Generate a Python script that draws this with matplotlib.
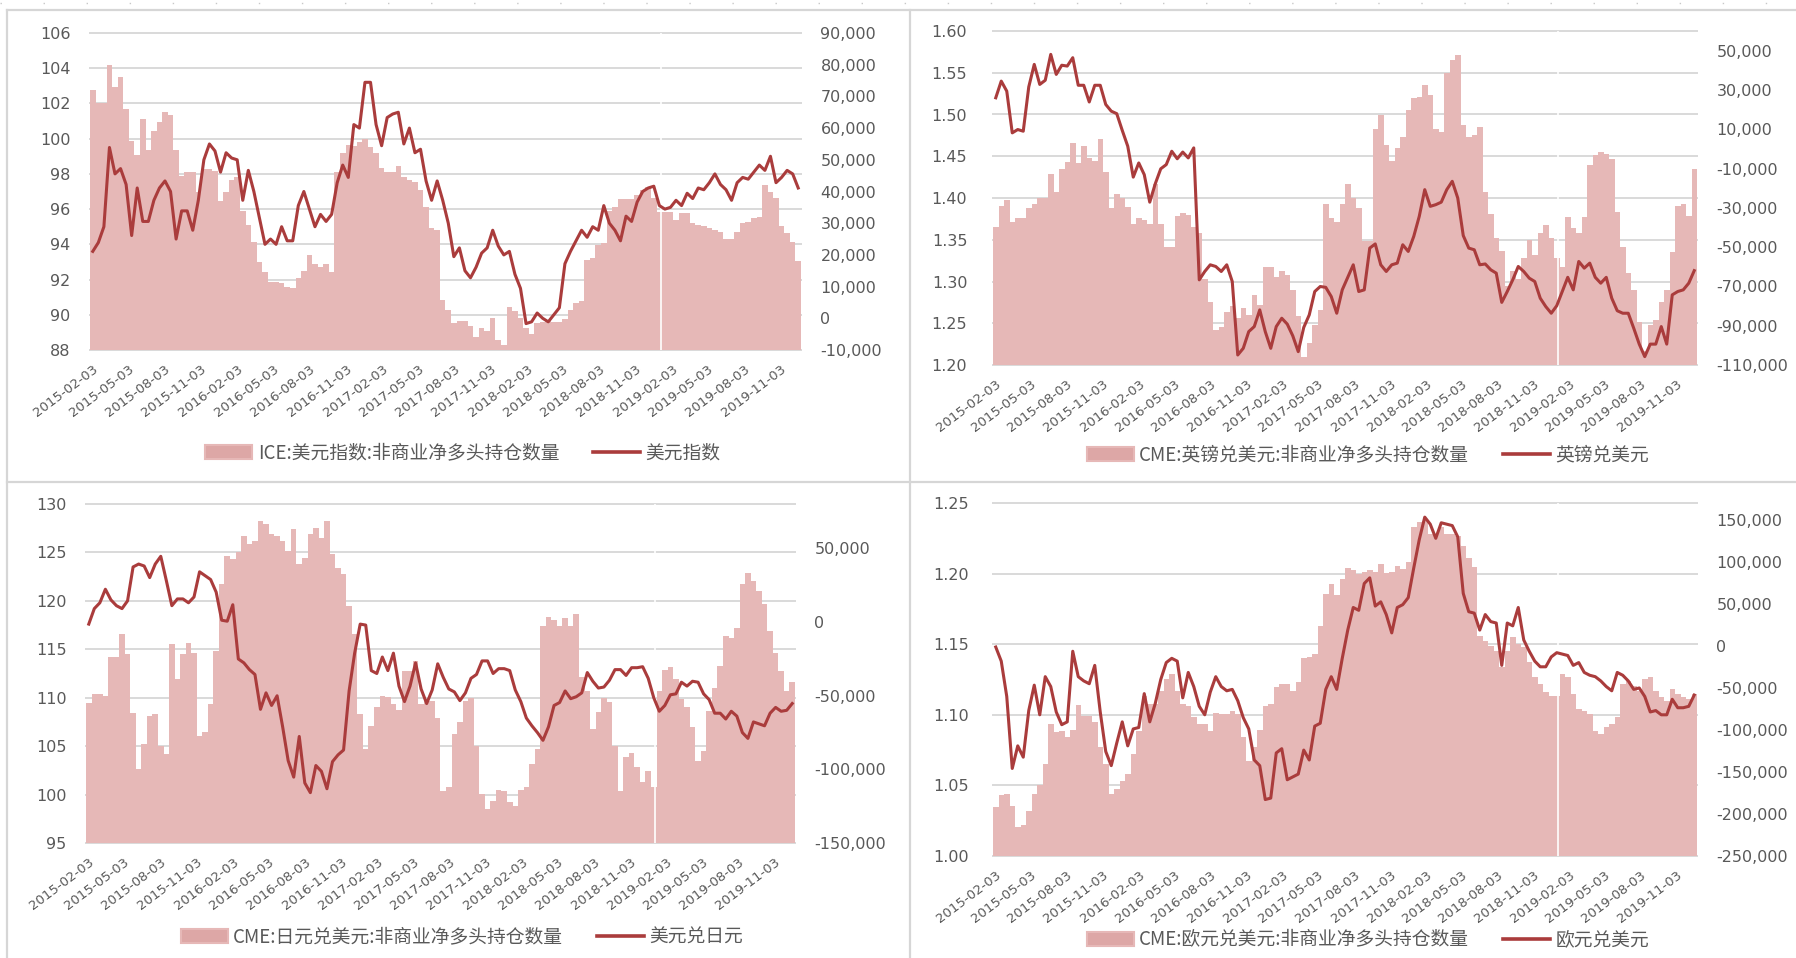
import numpy as np
import pandas as pd
import matplotlib
matplotlib.use('Agg')
import matplotlib.pyplot as plt
from matplotlib.lines import Line2D
from matplotlib.patches import Patch
from matplotlib.ticker import FuncFormatter

plt.rcParams['font.family'] = ['DejaVu Sans', 'Noto Sans CJK SC']

# CFTC weekly data, every second week
week_dates = pd.date_range('2015-02-03', periods=128, freq='14D')
tick_dates = pd.date_range('2015-02-01', '2019-11-01', freq='3MS') + pd.Timedelta(days=2)
report_gap = pd.Timestamp('2019-01-04')   # no COT report during the shutdown

usd_index = [
    93.6, 94.1, 95.0, 99.5, 98.0, 98.3, 97.4, 94.5, 97.2, 95.3,
    95.3, 96.5, 97.2, 97.6, 97.0, 94.3, 95.9, 95.9, 94.8, 96.5,
    98.8, 99.7, 99.3, 98.1, 99.2, 98.9, 98.8, 96.5, 98.2, 97.0,
    95.5, 94.0, 94.3, 94.0, 95.0, 94.2, 94.2, 96.2, 97.0, 96.0,
    95.0, 95.7, 95.3, 95.7, 97.5, 98.5, 97.8, 100.8, 100.6, 103.2,
    103.2, 100.8, 99.6, 101.2, 101.4, 101.5, 99.7, 100.6, 99.2, 99.4,
    97.6, 96.5, 97.6, 96.5, 95.2, 93.3, 93.8, 92.5, 92.1, 92.7,
    93.5, 93.8, 94.8, 93.9, 93.4, 93.6, 92.3, 91.5, 89.5, 89.6,
    90.1, 89.8, 89.6, 90.0, 90.4, 92.9, 93.6, 94.2, 94.8, 94.4,
    95.0, 94.8, 96.2, 95.2, 94.8, 94.2, 95.6, 95.3, 96.4, 97.0,
    97.2, 97.3, 96.2, 96.0, 96.1, 96.5, 96.2, 96.9, 96.6, 97.2,
    97.1, 97.5, 98.0, 97.4, 97.1, 96.5, 97.5, 97.8, 97.7, 98.1,
    98.5, 98.2, 99.0, 97.5, 97.8, 98.2, 98.0, 97.2]
ice_usd_net = [
    72000, 68000, 68000, 80000, 73000, 76000, 66000, 56000, 51500, 63000,
    53000, 59000, 62000, 65000, 64000, 53000, 45000, 46000, 46000, 40000,
    47000, 47000, 46500, 37000, 40000, 43500, 44500, 34000, 29500, 24000,
    17800, 14500, 11600, 11500, 11000, 10000, 9500, 12600, 15000, 20000,
    17000, 16300, 17000, 14500, 46000, 52000, 54600, 54200, 55500, 56500,
    54000, 52000, 47500, 46200, 46000, 48000, 44600, 43600, 43000, 40500,
    35000, 28400, 28000, 5800, 2700, -1500, -1000, -1000, -2500, -6000,
    -3000, -3900, 0, -6700, -8300, 3700, 2200, 0, -3000, -5000,
    -1500, -1300, -1000, -1200, -1200, -200, 2700, 4800, 5300, 18400,
    18900, 23100, 23600, 34000, 35000, 37600, 37600, 37600, 39000, 40400,
    41500, 37800, 33600, 33600, 33600, 31000, 33100, 33100, 30000, 29400,
    29100, 28600, 28000, 27300, 25000, 25000, 27300, 30000, 30500, 31500,
    32000, 42000, 40000, 38000, 29000, 27000, 24200, 18000]

gbpusd = [
    1.520, 1.540, 1.528, 1.478, 1.482, 1.480, 1.533, 1.560, 1.536, 1.541,
    1.572, 1.548, 1.559, 1.558, 1.568, 1.535, 1.535, 1.515, 1.535, 1.535,
    1.512, 1.504, 1.501, 1.481, 1.462, 1.425, 1.442, 1.428, 1.395, 1.417,
    1.435, 1.440, 1.456, 1.447, 1.455, 1.448, 1.460, 1.302, 1.312, 1.320,
    1.318, 1.312, 1.320, 1.300, 1.212, 1.220, 1.240, 1.246, 1.266, 1.240,
    1.220, 1.246, 1.256, 1.249, 1.235, 1.216, 1.245, 1.260, 1.288, 1.294,
    1.293, 1.282, 1.262, 1.290, 1.305, 1.320, 1.288, 1.290, 1.340, 1.345,
    1.320, 1.312, 1.320, 1.322, 1.344, 1.336, 1.354, 1.378, 1.410, 1.390,
    1.392, 1.395, 1.410, 1.420, 1.400, 1.355, 1.340, 1.338, 1.320, 1.321,
    1.314, 1.310, 1.275, 1.288, 1.302, 1.318, 1.312, 1.304, 1.300, 1.280,
    1.270, 1.262, 1.271, 1.288, 1.305, 1.290, 1.324, 1.316, 1.322, 1.305,
    1.298, 1.305, 1.280, 1.265, 1.262, 1.262, 1.244, 1.225, 1.210, 1.225,
    1.225, 1.246, 1.225, 1.284, 1.288, 1.290, 1.298, 1.313]
cme_gbp_net = [
    -40000, -29000, -26000, -37000, -35000, -35000, -30000, -28000, -25000, -25000,
    -13000, -22000, -10000, -6500, 3000, -7000, 1500, -4800, -6000, 5000,
    -12000, -30000, -23000, -25000, -29400, -38000, -35000, -36000, -38000, -18000,
    -38000, -50000, -50000, -34000, -32800, -33600, -40000, -43000, -66000, -78000,
    -92000, -90500, -82800, -80000, -86000, -81100, -84500, -74400, -79500, -60000,
    -60000, -65000, -62000, -64200, -71800, -85000, -106000, -99000, -89600, -82000,
    -28000, -35000, -37100, -28000, -18000, -25200, -30000, -47000, -47000, 10000,
    17000, 2000, -6000, 300, 6000, 20000, 25700, 26600, 32700, 27500,
    10000, 8800, 38500, 45000, 47800, 12000, 6300, 7000, 11300, -22000,
    -33000, -45500, -52000, -70000, -62000, -66000, -55700, -46400, -54000, -43000,
    -38700, -45500, -55700, -59900, -34500, -40300, -43000, -34500, -8000, -3000,
    -1400, -2700, -5000, -32000, -50000, -63000, -72000, -88000, -103000, -89600,
    -87000, -78000, -72000, -52300, -29000, -28000, -34000, -10000]

usdjpy = [
    117.6, 119.2, 119.8, 121.2, 120.1, 119.5, 119.2, 120.0, 123.5, 123.8,
    123.6, 122.4, 123.8, 124.6, 122.1, 119.5, 120.2, 120.2, 119.8, 120.4,
    123.0, 122.6, 122.2, 120.9, 118.0, 117.9, 119.6, 114.0, 113.6, 112.9,
    112.4, 108.8, 110.5, 109.2, 110.2, 107.0, 103.5, 101.8, 106.0, 101.2,
    100.2, 103.0, 102.4, 100.6, 103.4, 104.1, 104.6, 110.7, 114.6, 117.6,
    117.5, 112.8, 112.5, 114.2, 112.8, 114.6, 111.2, 109.6, 111.2, 113.6,
    110.9, 109.4, 110.8, 113.5, 112.1, 110.9, 110.6, 109.7, 110.5, 112.0,
    112.4, 113.8, 113.8, 112.5, 113.0, 113.0, 112.8, 110.8, 109.6, 107.9,
    107.1, 106.4, 105.6, 107.0, 109.2, 109.5, 110.7, 109.9, 110.1, 110.5,
    112.6, 111.7, 111.0, 111.1, 111.8, 112.9, 112.9, 112.3, 113.1, 113.1,
    113.2, 112.0, 110.0, 108.6, 109.2, 110.3, 110.4, 111.6, 111.2, 111.7,
    111.6, 110.4, 109.8, 108.4, 108.4, 107.8, 108.6, 108.1, 106.4, 105.8,
    107.5, 107.3, 107.1, 108.4, 109.0, 108.6, 108.7, 109.4]
cme_jpy_net = [
    -55000, -49000, -49000, -50000, -24000, -23700, -8000, -22000, -62000, -100000,
    -83000, -63700, -62500, -84000, -89600, -15100, -38800, -22000, -14000, -20800,
    -77200, -75000, -55800, -19600, 25500, 45000, 42500, 47500, 58300, 52600,
    54900, 68400, 66200, 59400, 58300, 54900, 48100, 62800, 39100, 43600,
    59400, 63900, 57100, 68400, 45800, 36800, 32300, 10800, -8400, -62500,
    -86300, -70400, -58000, -50100, -51000, -55800, -60000, -33200, -33200, -26400,
    -55800, -53500, -53500, -65000, -115000, -112200, -76100, -68200, -53500, -51300,
    -84000, -116700, -126900, -121300, -114000, -115000, -122400, -124600, -114000, -112200,
    -96400, -86300, -2700, 3400, 1000, -2700, 2900, -2700, 5200, -37700,
    -46700, -72700, -61400, -51300, -54600, -84000, -114500, -91900, -89200, -98700,
    -108800, -100900, -112200, -46700, -32700, -30900, -38800, -52400, -58000, -71600,
    -94200, -87400, -60300, -44500, -30000, -9500, -10600, -3800, 25500, 33400,
    28000, 21000, 12400, -6100, -20800, -33200, -46700, -41100]

eurusd = [
    1.148, 1.138, 1.113, 1.062, 1.078, 1.070, 1.103, 1.121, 1.100, 1.127,
    1.120, 1.102, 1.093, 1.095, 1.145, 1.127, 1.124, 1.122, 1.135, 1.102,
    1.074, 1.064, 1.080, 1.095, 1.078, 1.090, 1.091, 1.115, 1.095, 1.108,
    1.125, 1.137, 1.140, 1.138, 1.112, 1.130, 1.120, 1.106, 1.100, 1.116,
    1.127, 1.120, 1.117, 1.118, 1.110, 1.098, 1.090, 1.068, 1.064, 1.040,
    1.041, 1.073, 1.076, 1.054, 1.056, 1.058, 1.075, 1.068, 1.092, 1.094,
    1.118, 1.127, 1.118, 1.140, 1.160, 1.176, 1.174, 1.193, 1.197, 1.177,
    1.180, 1.171, 1.158, 1.176, 1.178, 1.183, 1.204, 1.224, 1.240, 1.235,
    1.225, 1.236, 1.235, 1.234, 1.226, 1.186, 1.173, 1.172, 1.160, 1.171,
    1.166, 1.165, 1.135, 1.165, 1.163, 1.176, 1.153, 1.145, 1.138, 1.134,
    1.134, 1.141, 1.144, 1.143, 1.142, 1.135, 1.137, 1.130, 1.128, 1.127,
    1.124, 1.120, 1.117, 1.130, 1.128, 1.124, 1.118, 1.119, 1.113, 1.102,
    1.103, 1.100, 1.100, 1.111, 1.105, 1.105, 1.106, 1.114]
cme_eur_net = [
    -192000, -178000, -176000, -190000, -215700, -213700, -196000, -176000, -165000, -140000,
    -92800, -102700, -101700, -108600, -100000, -70000, -82900, -82900, -90000, -120000,
    -140000, -176000, -170000, -160200, -152300, -128500, -100700, -60000, -69000, -69000,
    -53100, -39300, -33300, -53100, -69000, -71000, -84900, -92800, -92800, -100700,
    -80000, -80900, -80900, -76900, -80900, -108600, -136400, -120000, -100000, -71000,
    -69000, -49200, -45200, -45200, -53100, -43200, -15000, -13500, -10000, 24200,
    62000, 74000, 60000, 79700, 92800, 90000, 85600, 87600, 90000, 88000,
    97500, 87000, 87600, 95600, 92000, 100000, 141200, 147100, 149100, 133200,
    133200, 141200, 133200, 133200, 131200, 119300, 105000, 93600, 12300, 6300,
    0, -5600, -25400, -5600, 10300, 2400, -1600, -19400, -37300, -45200,
    -55100, -59100, -59100, -33300, -37300, -57100, -74900, -76900, -80900, -100700,
    -104700, -96700, -92800, -84900, -45200, -41200, -47200, -53100, -39300, -37300,
    -53100, -61100, -65000, -51100, -57100, -61100, -63000, -57100]

BAR = '#E6B8B7'
LINE = '#AA3C3C'
GRID = '#D9D9D9'
TXT = '#595959'
W, H = 1796, 958

fig = plt.figure(figsize=(W / 100, H / 100), dpi=100)


def px_rect(x0, y0, x1, y1):
    # pixel box (top-left origin) -> figure fraction rect
    return [x0 / W, 1 - y1 / H, (x1 - x0) / W, (y1 - y0) / H]


def draw_panel(box, bars, line, bar_lim, bar_ticks, line_lim, line_ticks, line_fmt,
               bar_label, line_label, legend_xy, left_pad):
    ax = fig.add_axes(px_rect(*box))   # bars on the right hand scale
    ax2 = ax.twinx()                   # rate on the left hand scale

    # horizontal gridlines follow the left scale, drawn behind the bars
    for v in line_ticks:
        f = (v - line_lim[0]) / (line_lim[1] - line_lim[0])
        ax.plot([0, 1], [f, f], transform=ax.transAxes, color=GRID, lw=1.4,
                zorder=0, clip_on=False)

    # touching columns as one stepped area, so there are no seams between bars
    half = pd.Timedelta(days=7)
    edges = list(week_dates - half) + [week_dates[-1] + half]
    lo = bar_lim[0]
    ax.fill_between(edges, lo, list(bars) + [bars[-1]], step='post', color=BAR,
                    linewidth=0, zorder=2)
    ax.axvline(report_gap, color='white', lw=1.2, zorder=3)
    ax2.plot(week_dates, line, color=LINE, lw=2.2, zorder=4)

    ax.set_ylim(bar_lim)
    ax2.set_ylim(line_lim)
    ax.set_xlim(edges[0], edges[-1])

    ax.yaxis.tick_right()
    ax2.yaxis.tick_left()
    ax.set_yticks(bar_ticks)
    ax.yaxis.set_major_formatter(FuncFormatter(lambda v, p: '{:,.0f}'.format(v)))
    ax2.set_yticks(line_ticks)
    ax2.yaxis.set_major_formatter(FuncFormatter(lambda v, p: line_fmt.format(v)))
    ax.tick_params(axis='y', length=0, pad=14, labelsize=11.5, labelcolor=TXT)
    ax2.tick_params(axis='y', length=0, pad=left_pad, labelsize=11.5, labelcolor=TXT)

    ax.set_xticks(tick_dates)
    ax.set_xticklabels([d.strftime('%Y-%m-%d') for d in tick_dates], rotation=37,
                       ha='right', va='top', rotation_mode='anchor', fontsize=9.5, color=TXT)
    ax.tick_params(axis='x', length=0, pad=9)

    for a in (ax, ax2):
        for s in a.spines.values():
            s.set_visible(False)

    handles = [Patch(facecolor='#DDA7A6', edgecolor=BAR, linewidth=1.5),
               Line2D([0], [0], color=LINE, lw=2.6)]
    fig.legend(handles, [bar_label, line_label], loc='center',
               bbox_to_anchor=(legend_xy[0] / W, 1 - legend_xy[1] / H), ncol=2,
               frameon=False, handlelength=2.5, handletextpad=0.3, columnspacing=1.8,
               prop={'family': ['Noto Sans CJK SC', 'DejaVu Sans'], 'size': 13.5},
               labelcolor=TXT)


draw_panel((90, 33, 801, 350), ice_usd_net, usd_index,
           (-10000, 90000), np.arange(-10000, 90001, 10000),
           (88, 106), np.arange(88, 107, 2), '{:.0f}',
           'ICE:美元指数:非商业净多头持仓数量', '美元指数', (463, 453), 14)

draw_panel((993, 31, 1697, 365), cme_gbp_net, gbpusd,
           (-110000, 60000), np.arange(-110000, 50001, 20000),
           (1.20, 1.60), np.arange(1.20, 1.601, 0.05), '{:.2f}',
           'CME:英镑兑美元:非商业净多头持仓数量', '英镑兑美元', (1368, 455), 18.5)

draw_panel((86, 504, 795, 843), cme_jpy_net, usdjpy,
           (-150000, 80000), np.arange(-150000, 50001, 50000),
           (95, 130), np.arange(95, 131, 5), '{:.0f}',
           'CME:日元兑美元:非商业净多头持仓数量', '美元兑日元', (462, 937), 14)

draw_panel((993, 503, 1697, 856), cme_eur_net, eurusd,
           (-250000, 170000), np.arange(-250000, 150001, 50000),
           (1.00, 1.25), np.arange(1.00, 1.251, 0.05), '{:.2f}',
           'CME:欧元兑美元:非商业净多头持仓数量', '欧元兑美元', (1368, 940), 17.5)

# panel frames, as in the original report layout
frame = dict(color='#D6D6D6', lw=1.6, transform=fig.transFigure)
fig.add_artist(Line2D([7 / W, 1], [1 - 10 / H, 1 - 10 / H], **frame))
fig.add_artist(Line2D([7 / W, 1], [1 - 482 / H, 1 - 482 / H], **frame))
fig.add_artist(Line2D([7 / W, 7 / W], [0, 1 - 10 / H], **frame))
fig.add_artist(Line2D([910 / W, 910 / W], [0, 1 - 10 / H], **frame))
fig.add_artist(Line2D([0, 1], [1 - 3 / H, 1 - 3 / H], color='#C8C8C8', lw=1,
                      linestyle=(0, (1, 30)), transform=fig.transFigure))

fig.savefig('out.png', dpi=100, facecolor='white')
